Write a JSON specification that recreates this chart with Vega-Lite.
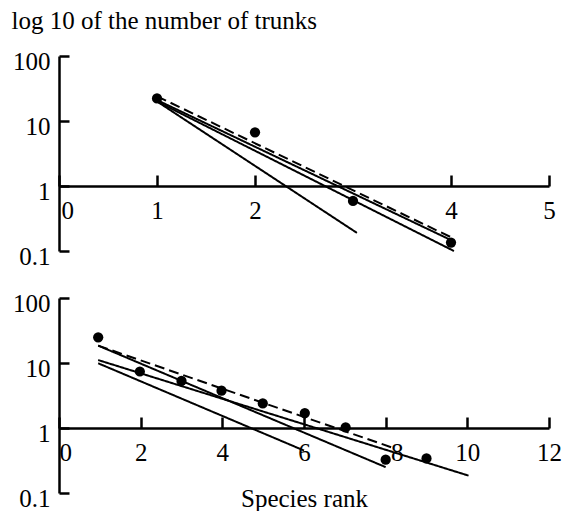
{
  "$schema": "https://vega.github.io/schema/vega-lite/v6.json",
  "padding": {"left": 11, "top": 8, "right": 0, "bottom": 0},
  "background": "white",
  "config": {
    "view": {"stroke": null},
    "axis": {
      "grid": false,
      "domainColor": "black",
      "domainWidth": 2.5,
      "tickColor": "black",
      "tickWidth": 2.5,
      "labelFont": "Liberation Serif",
      "labelFontSize": 25,
      "labelColor": "black",
      "labelFlush": false,
      "labelOverlap": false,
      "titleFont": "Liberation Serif",
      "titleFontSize": 25,
      "titleFontWeight": "normal",
      "titleColor": "black"
    }
  },
  "datasets": {
    "pointsA": [
      {"x": 1, "y": 22.2}, {"x": 2, "y": 6.7}, {"x": 3, "y": 0.59}, {"x": 4, "y": 0.135}
    ],
    "linesA": [
      {"line": "d", "style": "dashed", "x": 1, "y": 24}, {"line": "d", "style": "dashed", "x": 4.03, "y": 0.155},
      {"line": "s1", "style": "solid", "x": 1, "y": 21}, {"line": "s1", "style": "solid", "x": 4.03, "y": 0.14},
      {"line": "s2", "style": "solid", "x": 1, "y": 20}, {"line": "s2", "style": "solid", "x": 4.03, "y": 0.1},
      {"line": "s3", "style": "solid", "x": 1, "y": 20}, {"line": "s3", "style": "solid", "x": 3.04, "y": 0.19}
    ],
    "pointsB": [
      {"x": 0.96, "y": 24.8}, {"x": 1.98, "y": 7.4}, {"x": 3.0, "y": 5.3}, {"x": 3.98, "y": 3.75},
      {"x": 4.99, "y": 2.39}, {"x": 6.02, "y": 1.7}, {"x": 7.02, "y": 1.02}, {"x": 8.0, "y": 0.325}, {"x": 9.0, "y": 0.34}
    ],
    "linesB": [
      {"line": "d", "style": "dashed", "x": 0.96, "y": 18.5}, {"line": "d", "style": "dashed", "x": 8.2, "y": 0.49},
      {"line": "s1", "style": "solid", "x": 0.96, "y": 18.5}, {"line": "s1", "style": "solid", "x": 8.0, "y": 0.25},
      {"line": "s2", "style": "solid", "x": 0.96, "y": 11.1}, {"line": "s2", "style": "solid", "x": 10.03, "y": 0.185},
      {"line": "s3", "style": "solid", "x": 0.96, "y": 9.9}, {"line": "s3", "style": "solid", "x": 6.0, "y": 0.45}
    ]
  },
  "bounds": "flush",
  "spacing": 47,
  "vconcat": [
    {
      "width": 490,
      "height": 195,
      "encoding": {
        "x": {
          "field": "x", "type": "quantitative",
          "scale": {"domain": [0, 5], "nice": false, "zero": false},
          "axis": {
            "orient": "bottom", "offset": -65, "values": [0, 1, 2, 4, 5], "format": "d",
            "tickSize": -11, "labelPadding": 23, "title": null,
            "labelAlign": {"condition": {"test": "datum.value === 0", "value": "left"}, "value": "center"},
            "labelOffset": {"condition": {"test": "datum.value === 0", "value": 2}, "value": 0}
          }
        },
        "y": {
          "field": "y", "type": "quantitative",
          "scale": {"type": "log", "domain": [0.1, 100], "nice": false},
          "axis": {
            "values": [0.1, 1, 10, 100], "format": "~g", "tickSize": -10, "labelPadding": 19, "labelOffset": 5,
            "title": "log 10 of the number of trunks", "titleAngle": 0, "titleAlign": "left",
            "titleBaseline": "alphabetic", "titleX": -48, "titleY": -28
          }
        }
      },
      "layer": [
        {
          "data": {"name": "linesA"},
          "mark": {"type": "line", "color": "black", "strokeWidth": 2},
          "encoding": {
            "detail": {"field": "line"},
            "strokeDash": {"field": "style", "type": "nominal", "scale": {"domain": ["solid", "dashed"], "range": [[1, 0], [10, 5]]}, "legend": null}
          }
        },
        {
          "data": {"name": "pointsA"},
          "mark": {"type": "circle", "color": "black", "opacity": 1, "size": 105}
        },
        {
          "data": {"values": [{}]},
          "mark": {"type": "text", "font": "Liberation Serif", "fontSize": 25, "baseline": "middle", "align": "center", "color": "black"},
          "encoding": {"x": {"datum": 2.5}, "y": {"datum": 100}, "text": {"value": "(a)"}}
        }
      ]
    },
    {
      "width": 490,
      "height": 195,
      "encoding": {
        "x": {
          "field": "x", "type": "quantitative",
          "scale": {"domain": [0, 12], "nice": false, "zero": false},
          "axis": {
            "orient": "bottom", "offset": -65, "values": [0, 2, 4, 6, 8, 10, 12], "format": "d",
            "tickSize": -11, "labelPadding": 23,
            "labelAlign": {"condition": {"test": "datum.value === 0", "value": "left"}, "value": "center"},
            "labelOffset": {"condition": {"test": "datum.value === 8", "value": 11}, "value": 0},
            "title": "Species rank", "titleX": 245, "titleY": 78, "titleAlign": "center", "titleBaseline": "alphabetic"
          }
        },
        "y": {
          "field": "y", "type": "quantitative",
          "scale": {"type": "log", "domain": [0.1, 100], "nice": false},
          "axis": {
            "values": [0.1, 1, 10, 100], "format": "~g", "tickSize": -10, "labelPadding": 19, "labelOffset": 5, "title": null
          }
        }
      },
      "layer": [
        {
          "data": {"name": "linesB"},
          "mark": {"type": "line", "color": "black", "strokeWidth": 2},
          "encoding": {
            "detail": {"field": "line"},
            "strokeDash": {"field": "style", "type": "nominal", "scale": {"domain": ["solid", "dashed"], "range": [[1, 0], [10, 5]]}, "legend": null}
          }
        },
        {
          "data": {"name": "pointsB"},
          "mark": {"type": "circle", "color": "black", "opacity": 1, "size": 105}
        },
        {
          "data": {"values": [{}]},
          "mark": {"type": "text", "font": "Liberation Serif", "fontSize": 25, "baseline": "middle", "align": "center", "color": "black"},
          "encoding": {"x": {"datum": 6}, "y": {"datum": 100}, "text": {"value": "(b)"}}
        }
      ]
    }
  ]
}
